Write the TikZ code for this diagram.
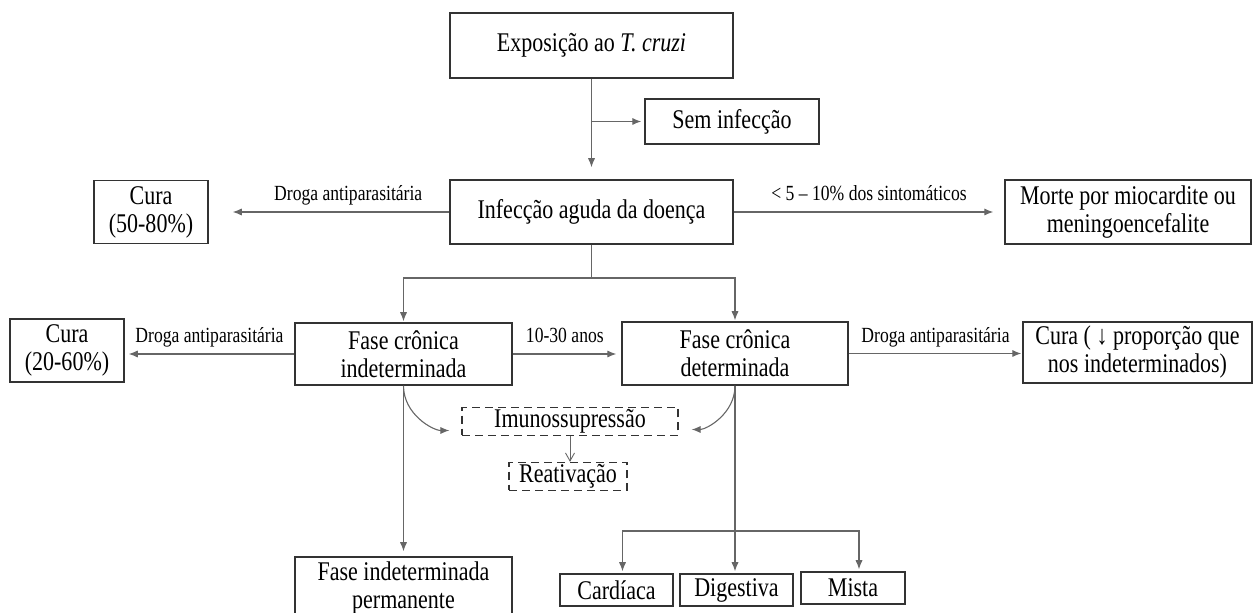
\documentclass[tikz,border=0pt]{standalone}
\usepackage{fontspec}
\setmainfont{Liberation Serif}[FakeStretch=0.815]
\usetikzlibrary{arrows.meta}

\begin{document}
\begin{tikzpicture}
        [x=0.5pt, y=-0.5pt,
        box/.style={draw=black!80, line width=0.75pt, align=center, inner ysep=1pt,
          font=\fontsize{13.5}{14}\selectfont},
        dbox/.style={box, dash pattern=on 4pt off 2.5pt, line width=0.65pt},
        line/.style={draw=black!60, line width=0.55pt},
        arr/.style={-{Latex[length=4.5pt,width=3.6pt]}, line},
        arrv/.style={-{Straight Barb[length=4pt,width=4.5pt]}, draw=black!60, line width=0.45pt},
        lbl/.style={font=\fontsize{10.8}{12}\selectfont, above, text depth=.2em}]
        \useasboundingbox (0, 0) rectangle (1257, 613);
        \node (expo) at (591.5, 45.5) [box, minimum width=141.5pt, minimum height=32.5pt] {Exposição ao \textit{T. cruzi}};
        \node (sem) at (732, 121.5) [box, minimum width=87pt, minimum height=22.5pt] {Sem infecção};
        \node (infec) at (591.5, 212) [box, minimum width=141.5pt, minimum height=32pt] {Infecção aguda da doença};
        \node (cura1) at (151, 212) [box, minimum width=57pt, minimum height=31.5pt] {Cura\\(50-80\%)};
        \node (morte) at (1128, 212) [box, minimum width=123pt, minimum height=32pt] {Morte por miocardite ou\\meningoencefalite};
        \node (cura2) at (67, 350.5) [box, minimum width=57pt, minimum height=31.5pt] {Cura\\(20-60\%)};
        \node (indet) at (403.5, 354) [box, minimum width=108.5pt, minimum height=31pt] {Fase crônica\\indeterminada};
        \node (deter) at (735, 353.5) [box, minimum width=113pt, minimum height=31.5pt] {Fase crônica\\determinada};
        \node (cura3) at (1137.5, 352.5) [box, minimum width=114.5pt, minimum height=30.5pt] {Cura ( ↓ proporção que\\nos indeterminados)};
        \node (imuno) at (570, 421.5) [dbox, minimum width=108pt, minimum height=13.5pt] {Imunossupressão};
        \node (reat) at (568, 476.5) [dbox, minimum width=59pt, minimum height=13.5pt] {Reativação};
        \node (perm) at (403.5, 588.5) [box, minimum width=108.5pt, minimum height=31.5pt] {Fase indeterminada\\permanente};
        \node (card) at (616.5, 590) [box, minimum width=56.5pt, minimum height=16pt] {Cardíaca};
        \node (digest) at (736.5, 590) [box, minimum width=56.5pt, minimum height=16pt] {Digestiva};
        \node (mista) at (853, 588) [box, minimum width=52pt, minimum height=16pt] {Mista};
        \coordinate (split) at (591.5, 278);
        \coordinate (tri) at (735, 531);
        \path (expo.south) edge[arr, shorten >=6pt] (infec.north);
        \path (expo.south |- sem.west) edge[arr, shorten >=1.5pt] (sem.west);
        \path (infec.west) edge[arr, shorten >=12pt] node[lbl, pos=.42] {Droga antiparasitária} (cura1.east);
        \path (infec.east) edge[arr, shorten >=5.5pt] node[lbl, pos=.5] {< 5 – 10\% dos  sintomáticos} (morte.west);
        \draw[line] (infec.south) -- (split);
        \draw[arr, shorten >=0.5pt] (split) -| (indet.north);
        \draw[arr, shorten >=0.5pt] (split) -| (deter.north);
        \path (indet.west) edge[arr, shorten >=2pt] node[lbl] {Droga antiparasitária} (indet.west -| cura2.east);
        \path (indet.east) edge[arr, shorten >=2.5pt] node[lbl, pos=.48] {10-30 anos} (indet.east -| deter.west);
        \path (deter.east) edge[arr, shorten >=0.5pt] node[lbl] {Droga antiparasitária} (deter.east -| cura3.west);
        \draw[arr, shorten >=6pt] (indet.south) to[out=-90, in=180] ([yshift=-4.5pt]imuno.west);
        \draw[arr, shorten >=6.5pt] (deter.south) to[out=-90, in=0] ([yshift=-4pt]imuno.east);
        \draw[arrv] (imuno.south) -- (imuno.south |- reat.north);
        \path (indet.south) edge[arr, shorten >=2.5pt] (perm.north);
        \path (deter.south) edge[arr, shorten >=1pt] (deter.south |- digest.north);
        \draw[arr, shorten >=1pt] (tri) -| ([xshift=3pt]card.north);
        \draw[arr, shorten >=1pt] (tri) -| ([xshift=3pt]mista.north);
     \end{tikzpicture}
\end{document}
